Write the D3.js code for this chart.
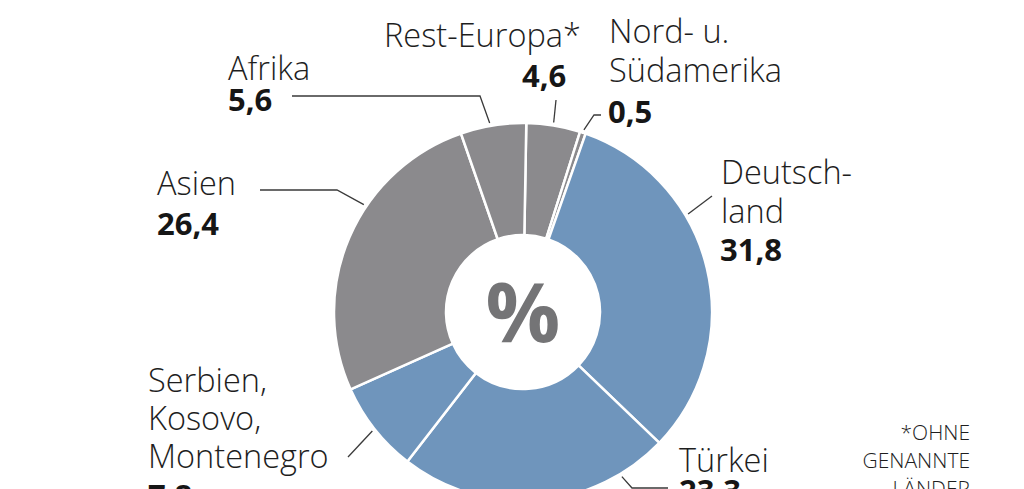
<!DOCTYPE html>
<html>
<head>
<meta charset="utf-8">
<script src="https://cdn.jsdelivr.net/npm/d3@7"></script>
<style>
  html, body { margin: 0; padding: 0; background: #fff; }
  svg { display: block; }
  .lbl { font-family: "Open Sans", sans-serif; font-weight: 300; fill: #1e1e1e; }
  .val { font-family: "Open Sans", sans-serif; font-weight: 700; fill: #161616; }
</style>
</head>
<body>
<svg id="chart" width="1024" height="489"></svg>
<script>
// ---- data ----
const categories = ["Rest-Europa*", "Nord- u. Südamerika", "Deutschland", "Türkei", "Serbien, Kosovo, Montenegro", "Asien", "Afrika"];
const values = [4.6, 0.5, 31.8, 23.3, 7.8, 26.4, 5.6];
const valueLabels = ["4,6", "0,5", "31,8", "23,3", "7,8", "26,4", "5,6"];
const groups = ["other", "other", "blue", "blue", "blue", "other", "other"];
const labelLines = [["Rest-Europa*"], ["Nord- u.", "Südamerika"], ["Deutsch-", "land"], ["Türkei"], ["Serbien,", "Kosovo,", "Montenegro"], ["Asien"], ["Afrika"]];
const footnote = ["*OHNE", "GENANNTE", "LÄNDER"];

// ---- layout ----
const W = 1024, H = 489;
const cx = 523, cy = 312, R = 189, r0 = 77;
const startDeg = 1.0;
const color = d3.scaleOrdinal().domain(["other", "blue"]).range(["#8b8a8d", "#6f95bc"]);

// label layout: text x, first baseline, line step, value baseline; leader: touch angle (deg), polyline from text side
const layout = [
  { x: 384, y: 47, step: 38, vx: 522, vy: 87, touch: 9.2, lead: [[556, 100]] },
  { x: 609, y: 43, step: 39, vx: 608, vy: 123, touch: 18.5, lead: [[601, 115], [594, 115]] },
  { x: 721, y: 184, step: 39, vx: 720, vy: 261, touch: 59.3, lead: [[712, 196]] },
  { x: 679, y: 472, step: 38, vx: 679, vy: 502, touch: 149, lead: [[668, 488], [632, 488]] },
  { x: 148, y: 392, step: 38, vx: 148, vy: 507, touch: 231.7, lead: [[348, 457]] },
  { x: 157, y: 195, step: 38, vx: 157, vy: 235, touch: 304, lead: [[260, 190], [337, 190]] },
  { x: 228, y: 80, step: 30, vx: 228, vy: 111, touch: 350, lead: [[292, 96], [480, 96]] }
];

const svg = d3.select("#chart");
const g = svg.append("g").attr("transform", `translate(${cx},${cy})`);

const rad = d => d * Math.PI / 180;
const pie = d3.pie().sort(null).value(d => d.v)
  .startAngle(rad(startDeg)).endAngle(rad(startDeg) + 2 * Math.PI);
const data = categories.map((c, i) => ({ c, v: values[i], grp: groups[i], i }));
const arcs = pie(data);
const arc = d3.arc().innerRadius(r0).outerRadius(R);

g.selectAll("path.slice").data(arcs).join("path")
  .attr("class", "slice")
  .attr("d", arc)
  .attr("fill", d => color(d.data.grp))
  .attr("stroke", "#fff")
  .attr("stroke-width", 2.5)
  .attr("stroke-linejoin", "round");

// center %
g.append("text")
  .attr("x", 0).attr("y", 30)
  .attr("text-anchor", "middle")
  .attr("font-family", "Open Sans, sans-serif")
  .attr("font-weight", 700)
  .attr("font-size", 83)
  .attr("fill", "#747476")
  .text("%");

// leaders
const line = d3.line();
arcs.forEach((a, i) => {
  const L = layout[i];
  const ang = rad(L.touch);
  const rr = R + 3;
  const pt = [cx + rr * Math.sin(ang), cy - rr * Math.cos(ang)];
  svg.append("path")
    .attr("d", line([...L.lead, pt]))
    .attr("fill", "none")
    .attr("stroke", "#3a3a3a")
    .attr("stroke-width", 1.3);
});

// labels
arcs.forEach((a, i) => {
  const L = layout[i];
  labelLines[i].forEach((t, k) => {
    svg.append("text").attr("class", "lbl")
      .attr("x", L.x).attr("y", L.y + k * L.step)
      .attr("font-size", 32.5)
      .text(t);
  });
  svg.append("text").attr("class", "val")
    .attr("x", L.vx).attr("y", L.vy)
    .attr("font-size", 31)
    .text(valueLabels[i]);
});

// footnote
footnote.forEach((t, k) => {
  svg.append("text").attr("class", "lbl")
    .attr("x", 970).attr("y", 440 + k * 28)
    .attr("text-anchor", "end")
    .attr("font-size", 21)
    .attr("fill", "#2a2a2a")
    .text(t);
});
</script>
</body>
</html>
